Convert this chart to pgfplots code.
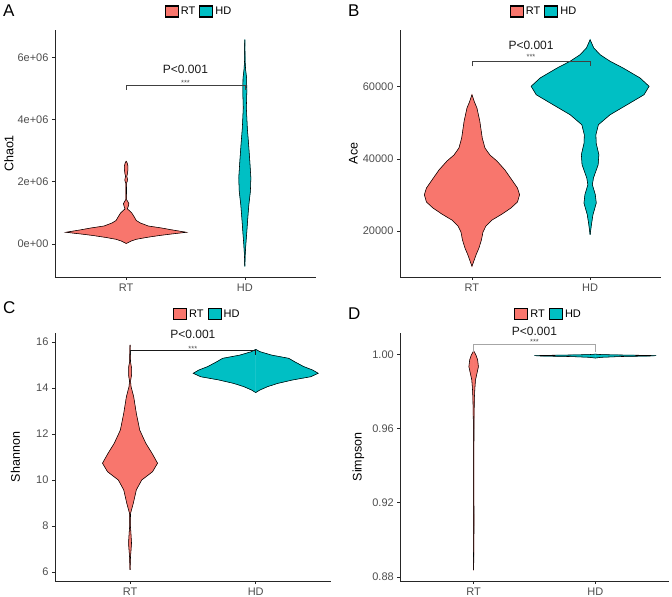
\documentclass[border=0pt]{standalone}
\usepackage{fontspec}
\setmainfont{Liberation Sans}
\usepackage{pgfplots}
\pgfplotsset{compat=1.18}
\usepackage{pgfplotstable}
\definecolor{rtcol}{HTML}{F8766D}
\definecolor{hdcol}{HTML}{00BFC4}
\definecolor{tickgray}{HTML}{4D4D4D}

% violin outlines: y value, half width (x units)
\pgfplotstableread{
y w
0.016 0
0.048 0.017
0.096 0.042
0.151 0.085
0.209 0.169
0.273 0.280
0.321 0.381
0.376 0.508
0.456 0.381
0.514 0.297
0.578 0.186
0.675 0.119
0.755 0.085
0.868 0.068
0.996 0.047
1.077 0.025
1.125 0.010
1.205 0.017
1.295 0.023
1.366 0.013
1.424 0.0034
1.735 0.0025
1.960 0.0034
2.025 0.010
2.066 0.011
2.121 0.0085
2.176 0.005
2.250 0.010
2.378 0.0144
2.507 0.0144
2.603 0.0085
2.658 0
}\ArT
\pgfplotstableread{
y w
-0.717 0
-0.344 0.0034
-0.022 0.0085
0.408 0.017
0.836 0.025
1.263 0.034
1.694 0.047
2.121 0.051
2.658 0.042
3.191 0.032
3.728 0.021
4.371 0.013
4.907 0.017
5.335 0.015
5.601 0.0068
5.871 0.0025
6.566 0
}\AhD
\pgfplotstableread{
y w
10.25 0
11.44 0.013
13.38 0.034
15.32 0.059
17.53 0.080
19.75 0.093
21.40 0.118
23.06 0.169
24.72 0.254
26.40 0.330
28.06 0.385
30.08 0.403
31.94 0.385
34.16 0.338
36.93 0.279
39.42 0.211
41.08 0.152
43.02 0.110
45.79 0.087
50.50 0.066
54.10 0.042
55.76 0.021
57.78 0
}\BrT
\pgfplotstableread{
y w
19.00 0
21.77 0.011
24.54 0.024
27.78 0.052
30.08 0.044
32.85 0.019
34.71 0.028
38.39 0.068
41.16 0.074
44.40 0.051
46.70 0.049
49.47 0.070
52.24 0.169
55.01 0.313
57.78 0.456
60.11 0.499
62.41 0.423
65.18 0.279
67.04 0.169
68.86 0.085
70.72 0.031
73.02 0
}\BhD
\pgfplotstableread{
y w
6.09 0
6.43 0.0024
6.67 0.004
7.25 0.012
7.75 0.0064
8.04 0.0024
8.55 0.004
8.99 0.026
9.57 0.050
10.00 0.093
10.36 0.179
10.73 0.219
11.16 0.175
11.60 0.125
12.17 0.077
12.90 0.050
13.62 0.029
14.06 0.008
14.30 0.004
14.57 0.012
14.87 0.012
15.13 0.004
15.43 0.0024
15.87 0
}\CrT
\pgfplotstableread{
y w
13.80 0
13.91 0.032
14.06 0.095
14.20 0.175
14.35 0.294
14.49 0.438
14.64 0.497
14.78 0.453
14.93 0.382
15.14 0.310
15.29 0.263
15.43 0.126
15.58 0.033
15.68 0
}\ChD
\pgfplotstableread{
y w
0.8837 0
0.9000 0.0025
0.9107 0.003
0.9215 0.0025
0.9484 0.0025
0.9646 0.003
0.9763 0.006
0.9817 0.010
0.9861 0.015
0.9906 0.030
0.9933 0.039
0.9969 0.033
0.9996 0.019
1.0019 0
}\DrT
\pgfplotstableread{
y w
0.9980 0
0.9984 0.05
0.9988 0.20
0.9991 0.45
0.9993 0.50
0.9995 0.35
0.9997 0.15
0.9999 0.04
1.0001 0
}\DhD

\newcommand{\violin}[3]{%
  \addplot[fill=#3, draw=#3, line width=0.4pt, forget plot] table[x expr=#1+\thisrow{w}, y=y] {#2} -- cycle;
  \addplot[fill=#3, draw=#3, line width=0.4pt, forget plot] table[x expr=#1-\thisrow{w}, y=y] {#2} -- cycle;
  \addplot[draw=black, line width=0.55pt, forget plot] table[x expr=#1+\thisrow{w}, y=y] {#2};
  \addplot[draw=black, line width=0.55pt, forget plot] table[x expr=#1-\thisrow{w}, y=y] {#2};
}

\pgfplotsset{
  violinax/.style={
    scale only axis, anchor=south west,
    axis x line*=bottom, axis y line*=left,
    axis line style={-, line width=0.7pt, black!85},
    tick align=outside, major tick length=3pt,
    tick style={line width=0.6pt, black!85},
    xtick={1,2}, xticklabels={RT,HD},
    ticklabel style={font=\fontsize{11}{13}\selectfont, text=tickgray},
    /pgf/number format/assume math mode=true,
    clip=false,
    legend columns=2,
    legend style={draw=none, fill=none, at={(axis description cs:0.552,1.075)}, anchor=center,
      font=\fontsize{11}{13}\selectfont, inner sep=0pt,
      /tikz/every even column/.append style={column sep=2pt}},
    legend image code/.code={\draw[##1, draw=black, line width=1.1pt] (0pt,-5.5pt) rectangle (13pt,5.5pt);},
  },
  ylabpos/.style={every axis y label/.style={at={([xshift=#1]axis description cs:0,0.5)}, rotate=90, anchor=center, font=\fontsize{12.5}{14}\selectfont, text=black}},
}

\begin{document}
\begin{tikzpicture}
\path[use as bounding box] (0pt,0pt) rectangle (672pt,597pt);

% ---------- A ----------
\begin{axis}[violinax, at={(55pt,320pt)}, width=261pt, height=247pt,
  xmin=0.4, xmax=2.6, ymin=-1.061, ymax=6.877,
  ytick={0,2,4,6}, yticklabels={0e+00,2e+06,4e+06,6e+06},
  ylabpos=-46pt, ylabel={Chao1}]
\addlegendimage{fill=rtcol}\addlegendentry{RT}
\addlegendimage{fill=hdcol}\addlegendentry{HD}
\violin{1}{\ArT}{rtcol}
\violin{2}{\AhD}{hdcol}
\addplot[forget plot, line width=0.5pt, black!75] coordinates {(1,4.96) (1,5.10) (2,5.10) (2,4.96)};
\node[font=\fontsize{12}{14}\selectfont, text=black!90] at (axis cs:1.5,5.61) {P<0.001};
\node[font=\fontsize{7.5}{8}\selectfont, text=black!70] at (axis cs:1.5,5.17) {***};
\end{axis}

% ---------- B ----------
\begin{axis}[violinax, at={(400pt,320pt)}, width=261pt, height=247pt,
  xmin=0.391, xmax=2.6, ymin=7.29, ymax=75.71,
  ytick={20,40,60}, yticklabels={20000,40000,60000},
  ylabpos=-46.5pt, ylabel={Ace}]
\addlegendimage{fill=rtcol}\addlegendentry{RT}
\addlegendimage{fill=hdcol}\addlegendentry{HD}
\violin{1}{\BrT}{rtcol}
\violin{2}{\BhD}{hdcol}
\addplot[forget plot, line width=0.5pt, black!75] coordinates {(1,65.65) (1,67.04) (2,67.04) (2,65.65)};
\node[font=\fontsize{12}{14}\selectfont, text=black!90] at (axis cs:1.5,71.55) {P<0.001};
\node[font=\fontsize{7.5}{8}\selectfont, text=black!70] at (axis cs:1.5,68.3) {***};
\end{axis}

% ---------- C ----------
\begin{axis}[violinax, at={(55pt,16pt)}, width=276pt, height=248pt,
  xmin=0.403, xmax=2.599, ymin=5.609, ymax=16.391,
  ytick={6,8,10,12,14,16}, yticklabels={6,8,10,12,14,16},
  ylabpos=-39.5pt, ylabel={Shannon}]
\addlegendimage{fill=rtcol}\addlegendentry{RT}
\addlegendimage{fill=hdcol}\addlegendentry{HD}
\violin{1}{\CrT}{rtcol}
\violin{2}{\ChD}{hdcol}
\addplot[forget plot, line width=0.5pt, black!90] coordinates {(1,15.43) (1,15.65) (2,15.65) (2,15.43)};
\node[font=\fontsize{12}{14}\selectfont, text=black!90] at (axis cs:1.5,16.35) {P<0.001};
\node[font=\fontsize{7.5}{8}\selectfont, text=black!70] at (axis cs:1.5,15.72) {***};
\end{axis}

% ---------- D ----------
\begin{axis}[violinax, at={(400.3pt,16pt)}, width=268.7pt, height=248pt,
  xmin=0.397, xmax=2.606, ymin=0.8778, ymax=1.0115,
  ytick={0.88,0.92,0.96,1.00}, yticklabels={0.88,0.92,0.96,1.00},
  ylabpos=-42pt, ylabel={Simpson}]
\addlegendimage{fill=rtcol}\addlegendentry{RT}
\addlegendimage{fill=hdcol}\addlegendentry{HD}
\violin{1}{\DrT}{rtcol}
\violin{2}{\DhD}{hdcol}
\addplot[forget plot, line width=0.5pt, black!35] coordinates {(1,1.0012) (1,1.0054) (2,1.0054) (2,1.0012)};
\node[font=\fontsize{12}{14}\selectfont, text=black!90] at (axis cs:1.5,1.0126) {P<0.001};
\node[font=\fontsize{7.5}{8}\selectfont, text=black!70] at (axis cs:1.5,1.0068) {***};
\end{axis}

% panel labels
\node[anchor=base west, inner sep=0pt, font=\fontsize{17}{20}\selectfont] at (3pt,580pt) {A};
\node[anchor=base west, inner sep=0pt, font=\fontsize{17}{20}\selectfont] at (348pt,580pt) {B};
\node[anchor=base west, inner sep=0pt, font=\fontsize{17}{20}\selectfont] at (3pt,283pt) {C};
\node[anchor=base west, inner sep=0pt, font=\fontsize{17}{20}\selectfont] at (348pt,277pt) {D};
\end{tikzpicture}
\end{document}
